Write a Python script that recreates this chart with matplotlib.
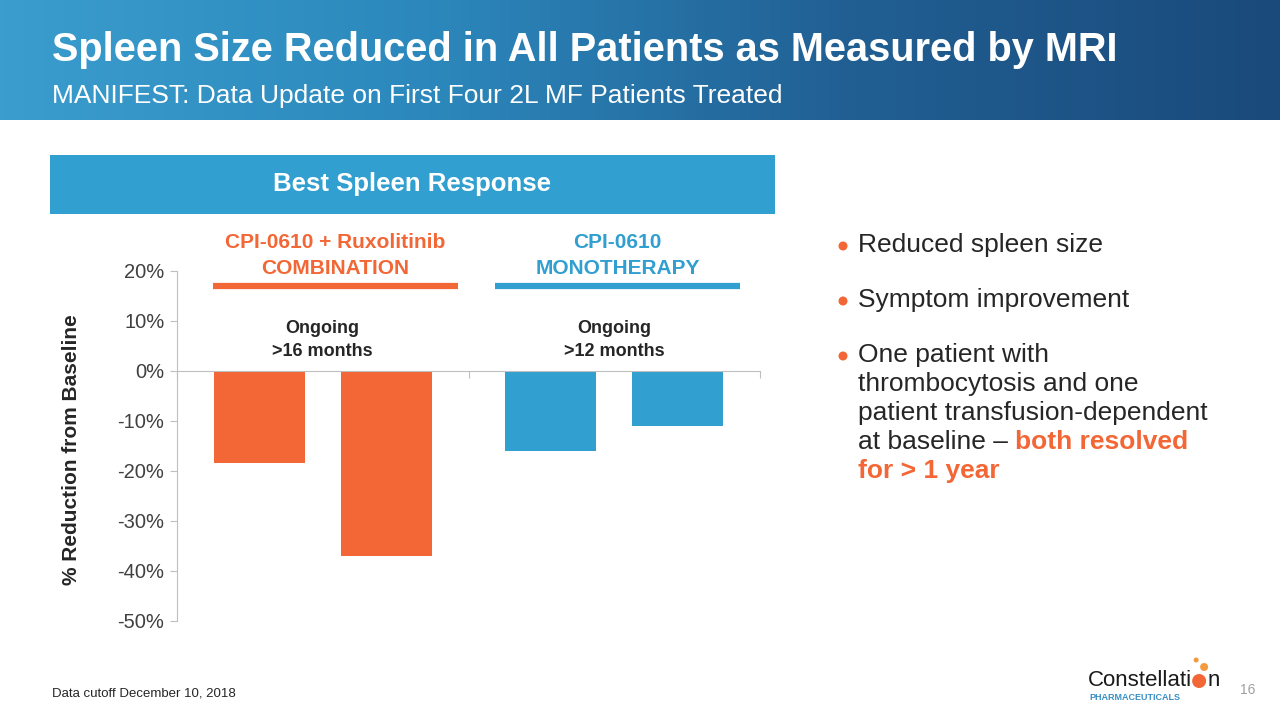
import matplotlib
matplotlib.use("Agg")
import matplotlib.pyplot as plt
import numpy as np
from matplotlib.patches import Rectangle, Ellipse
from matplotlib.colors import LinearSegmentedColormap

# data
groups = ["CPI-0610 + Ruxolitinib\nCOMBINATION", "CPI-0610\nMONOTHERAPY"]
durations = ["Ongoing\n>16 months", "Ongoing\n>12 months"]
patient_a = [-18.4, -15.9]   # first patient in each group
patient_b = [-37.0, -11.0]   # second patient in each group
yticks = [20, 10, 0, -10, -20, -30, -40, -50]

ORANGE = "#F26735"
BLUE = "#319FD0"
INK = "#262626"
W, H = 1280, 720

plt.rcParams["font.family"] = ["Liberation Sans", "DejaVu Sans"]

fig = plt.figure(figsize=(12.8, 7.2), dpi=100)
fig.patch.set_facecolor("white")


def fx(x):
    return x / W


def fy(y):
    return 1 - y / H


def dot(xp, yp, rp, color):
    # round dot given in pixels
    fig.patches.append(Ellipse((fx(xp), fy(yp)), 2 * rp / W, 2 * rp / H, transform=fig.transFigure,
                               facecolor=color, edgecolor="none"))


# header band with gradient
hdr = fig.add_axes([0, fy(120), 1, 120 / H])
cmap = LinearSegmentedColormap.from_list("hdr", ["#3A9DCD", "#2C88BC", "#215F93", "#1A4A7B"])
grad = np.linspace(0, 1, 256).reshape(1, -1)
hdr.imshow(grad, aspect="auto", cmap=cmap, extent=[0, 1, 0, 1])
hdr.set_xlim(0, 1); hdr.set_ylim(0, 1); hdr.axis("off")
fig.text(fx(52), fy(50), "Spleen Size Reduced in All Patients as Measured by MRI", color="white",
         fontsize=28.6, fontweight="bold", va="center", ha="left")
fig.text(fx(52), fy(96), "MANIFEST: Data Update on First Four 2L MF Patients Treated", color="white",
         fontsize=19, va="center", ha="left")

# section box
fig.patches.append(Rectangle((fx(50), fy(214)), 725 / W, 59 / H, transform=fig.transFigure,
                             facecolor="#319FD0", edgecolor="none"))
fig.text(fx(412), fy(184), "Best Spleen Response", color="white", fontsize=18.5, fontweight="bold",
         ha="center", va="center")

# chart
ax = fig.add_axes([fx(177), fy(621), 583 / W, 350 / H])
x = np.arange(len(groups))
bw = 0.312
off = 0.218
ax.bar(x - off, patient_a, bw, color=[ORANGE, BLUE], zorder=2)
ax.bar(x + off, patient_b, bw, color=[ORANGE, BLUE], zorder=2)
ax.set_xlim(-0.5, 1.5)
ax.set_ylim(-50, 20)
ax.set_yticks(yticks)
ax.set_yticklabels([f"{v}%" for v in yticks], fontsize=14.5, color="#404040")
ax.set_xticks([-0.5, 0.5, 1.5])
ax.set_xticklabels([])
for s in ("top", "right"):
    ax.spines[s].set_visible(False)
ax.spines["bottom"].set_position(("data", 0))
for s in ("left", "bottom"):
    ax.spines[s].set_color("#BFBFBF")
ax.tick_params(axis="both", color="#BFBFBF", length=5, direction="out", pad=4)
ax.patch.set_alpha(0)

# group headers and brackets
gcol = [ORANGE, BLUE]
for i, g in enumerate(groups):
    c = i + 0.044 - 0.033 * i
    ax.text(c, 23.1, g, color=gcol[i], fontsize=15, fontweight="bold", ha="center", va="center",
            linespacing=1.4)
    ax.plot([c - 0.42, c + 0.42], [17, 17], color=gcol[i], lw=4.5, solid_capstyle="butt", clip_on=False)
    ax.text(i, 6.2, durations[i], color=INK, fontsize=13, fontweight="bold", ha="center", va="center",
            linespacing=1.5)

fig.text(fx(72), fy(450), "% Reduction from Baseline", rotation=90, fontsize=15, fontweight="bold",
         color=INK, ha="center", va="center")

# bullets
bullets = [(245, "Reduced spleen size"), (300, "Symptom improvement")]
for y, t in bullets:
    dot(843, y + 1, 4.5, ORANGE)
    fig.text(fx(858), fy(y), t, color=INK, fontsize=19, ha="left", va="center")
dot(843, 356, 4.5, ORANGE)
lines = ["One patient with", "thrombocytosis and one", "patient transfusion-dependent"]
for k, t in enumerate(lines):
    fig.text(fx(858), fy(355 + 29 * k), t, color=INK, fontsize=19, ha="left", va="center")
t1 = fig.text(fx(858), fy(442), "at baseline \u2013 ", color=INK, fontsize=19, ha="left", va="center")
r = fig.canvas.get_renderer()
bb = t1.get_window_extent(r)
fig.text(bb.x1 / W, fy(442), "both resolved", color=ORANGE, fontsize=19, fontweight="bold",
         ha="left", va="center")
fig.text(fx(858), fy(471), "for > 1 year", color=ORANGE, fontsize=19, fontweight="bold",
         ha="left", va="center")

# footer
fig.text(fx(52), fy(693), "Data cutoff December 10, 2018", fontsize=9.5, color=INK, ha="left", va="center")
fig.text(fx(1248), fy(690), "16", fontsize=10, color="#A0A0A0", ha="center", va="center")
logo = fig.text(fx(1088), fy(680), "Constellati", fontsize=16, fontweight="medium", color="#1A1A1A",
                ha="left", va="center")
lb = logo.get_window_extent(r)
lx = lb.x1
dot(lx + 7, 681, 7, ORANGE)
dot(lx + 12, 667, 4, "#F39A3C")
dot(lx + 4, 660, 2.5, "#F39A3C")
fig.text(fx(lx + 15), fy(680), "n", fontsize=16, color="#1A1A1A", ha="left", va="center")
fig.text(fx(1089), fy(698), "PHARMACEUTICALS", fontsize=6.5, fontweight="bold", color="#3A8FC4",
         ha="left", va="center")

fig.savefig("out.png", dpi=100, facecolor="white")
